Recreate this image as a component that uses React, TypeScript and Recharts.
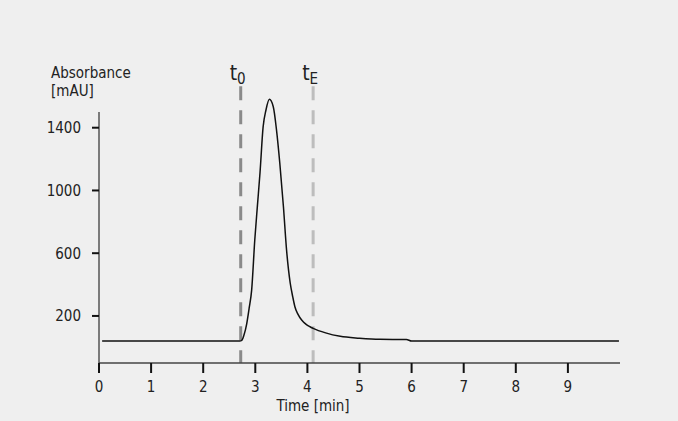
import { Line, LineChart, ReferenceDot, ReferenceLine, XAxis, YAxis } from 'recharts'

// Chromatogram trace
const timeMin = [
  0.06, 1.0, 2.0, 2.7, 2.74, 2.78, 2.835, 2.88, 2.93, 2.99, 3.04, 3.09, 3.15, 3.205, 3.27,
  3.345, 3.41, 3.47, 3.54, 3.6, 3.67, 3.72, 3.76, 3.82, 3.89, 3.97, 4.05, 4.11, 4.35, 4.63,
  5.0, 5.39, 5.9, 6.0, 8.0, 9.98,
]
const absorbance = [
  40, 40, 40, 40, 44, 75, 150, 245, 365, 684, 900, 1111, 1405, 1513, 1581,
  1534, 1377, 1175, 896, 620, 410, 320, 259, 210, 174, 148, 131, 121, 92, 70,
  58, 51, 50, 40, 40, 40,
]

const xTicks = [0, 1, 2, 3, 4, 5, 6, 7, 8, 9]
const yTicks = [200, 600, 1000, 1400]

// dead time / exclusion markers
const markers = [
  { name: 't', sub: '0', time: 2.72, color: '#8a8a8a' },
  { name: 't', sub: 'E', time: 4.11, color: '#bdbdbd' },
]

const FONT = '"DejaVu Sans Condensed", "Liberation Sans Narrow", "Liberation Sans", sans-serif'
const INK = '#222'

const data = timeMin.map((t, i) => ({ t, v: absorbance[i] }))

export default function App() {
  return (
    <div
      style={{
        position: 'fixed',
        left: 0,
        top: 0,
        width: 678,
        height: 421,
        background: '#efefef',
        fontFamily: FONT,
      }}
    >
      <LineChart
        width={678}
        height={421}
        data={data}
        margin={{ top: 80.65, right: 58, bottom: 0, left: 39 }}
      >
        <XAxis
          dataKey="t"
          type="number"
          domain={[0, 10]}
          ticks={xTicks}
          height={58}
          axisLine={{ stroke: '#444', strokeWidth: 1.5 }}
          tickLine={{ stroke: '#111', strokeWidth: 2 }}
          tickSize={10}
          tickMargin={8}
          tick={{ fontSize: 15, fill: INK, fontFamily: FONT }}
          label={{
            content: () => (
              <text x={313} y={411} textAnchor="middle" fontSize={15} fill={INK} fontFamily={FONT}>
                Time [min]
              </text>
            ),
          }}
        />
        <YAxis
          type="number"
          domain={[-100, 1700]}
          allowDataOverflow
          ticks={yTicks}
          width={60}
          axisLine={false}
          tickLine={{ stroke: '#111', strokeWidth: 2 }}
          tickSize={7}
          tickMargin={11}
          tick={{ fontSize: 15, fill: INK, fontFamily: FONT }}
          label={{
            content: () => (
              <text x={51} y={78} fontSize={15} fill={INK} fontFamily={FONT}>
                <tspan x={51}>Absorbance</tspan>
                <tspan x={51} dy={18}>[mAU]</tspan>
              </text>
            ),
          }}
        />
        {/* visible y axis stops at 1500, below the peak */}
        <ReferenceLine
          segment={[{ x: 0, y: 1500 }, { x: 0, y: -100 }]}
          stroke="#555"
          strokeWidth={1.5}
        />
        {markers.map(m => (
          <ReferenceLine
            key={m.sub}
            segment={[{ x: m.time, y: 1665 }, { x: m.time, y: -100 }]}
            stroke={m.color}
            strokeWidth={3}
            strokeDasharray="14 10"
          />
        ))}
        <Line
          type="monotone"
          dataKey="v"
          stroke="#111"
          strokeWidth={1.5}
          dot={false}
          activeDot={false}
          isAnimationActive={false}
        />
        {markers.map(m => (
          <ReferenceDot
            key={'lbl' + m.sub}
            x={m.time}
            y={1700}
            r={0}
            fill="none"
            stroke="none"
            label={{
              content: (props: any) => {
                const vb = props.viewBox || {}
                const cx = (vb.x ?? 0) + (vb.width ?? 0) / 2
                const cy = (vb.y ?? 0) + (vb.height ?? 0) / 2
                return (
                  <text x={cx - 3} y={cy - 1} textAnchor="middle" fontSize={21} fill={INK} fontFamily={FONT}>
                    {m.name}
                    <tspan fontSize={15} dy={4}>
                      {m.sub}
                    </tspan>
                  </text>
                )
              },
            }}
          />
        ))}
      </LineChart>
    </div>
  )
}
